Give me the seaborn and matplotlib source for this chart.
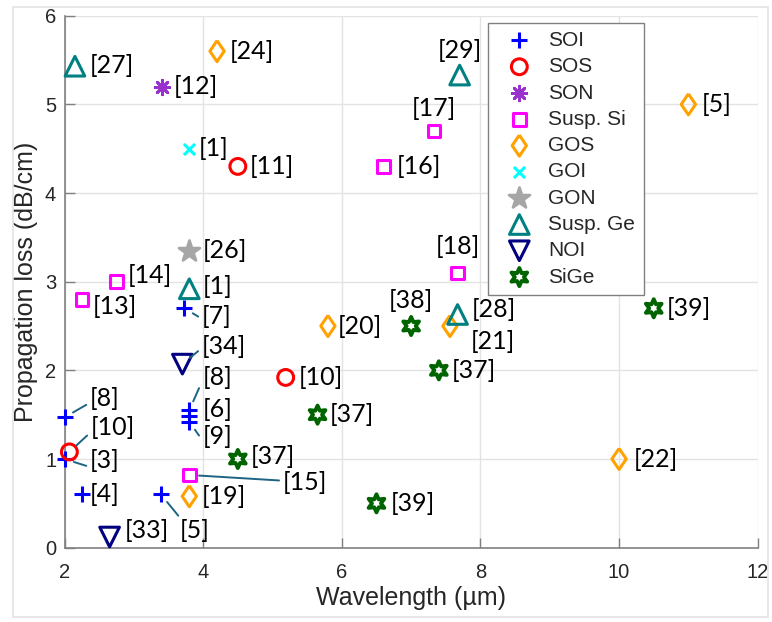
import matplotlib
matplotlib.use("Agg")
from matplotlib import pyplot as plt
from matplotlib.markers import MarkerStyle
from matplotlib.patches import Rectangle
import seaborn as sns

# waveguide platforms and their data (wavelength in um, loss in dB/cm)
groups = ["SOI", "SOS", "SON", "Susp. Si", "GOS", "GOI", "GON", "Susp. Ge", "NOI", "SiGe"]

soi_x = [2.0, 2.0, 2.25, 3.39, 3.73, 3.8, 3.8, 3.8]
soi_y = [1.47, 1.0, 0.6, 0.6, 2.7, 1.55, 1.49, 1.42]
soi_ref = ["[8]", "[3]", "[4]", "[5]", "[7]", "[8]", "[6]", "[9]"]

sos_x = [2.07, 4.5, 5.19]
sos_y = [1.08, 4.3, 1.92]
sos_ref = ["[10]", "[11]", "[10]"]

son_x = [3.4]
son_y = [5.2]
son_ref = ["[12]"]

susp_si_x = [2.25, 2.75, 3.8, 6.6, 7.33, 7.67]
susp_si_y = [2.8, 3.0, 0.82, 4.3, 4.7, 3.1]
susp_si_ref = ["[13]", "[14]", "[15]", "[16]", "[17]", "[18]"]

gos_x = [4.2, 3.8, 5.8, 7.56, 10.0, 11.0]
gos_y = [5.6, 0.58, 2.5, 2.5, 1.0, 5.0]
gos_ref = ["[24]", "[19]", "[20]", "[21]", "[22]", "[5]"]

goi_x = [3.8]
goi_y = [4.5]
goi_ref = ["[1]"]

gon_x = [3.8]
gon_y = [3.35]
gon_ref = ["[26]"]

susp_ge_x = [2.15, 3.8, 7.7, 7.67]
susp_ge_y = [5.43, 2.92, 5.33, 2.63]
susp_ge_ref = ["[27]", "[1]", "[29]", "[28]"]

noi_x = [3.7, 2.65]
noi_y = [2.07, 0.12]
noi_ref = ["[34]", "[33]"]

sige_x = [4.5, 5.65, 6.5, 7.0, 7.4, 10.5]
sige_y = [1.0, 1.5, 0.5, 2.5, 2.0, 2.7]
sige_ref = ["[37]", "[37]", "[39]", "[38]", "[37]", "[39]"]

data = {
    "SOI": (soi_x, soi_y, soi_ref),
    "SOS": (sos_x, sos_y, sos_ref),
    "SON": (son_x, son_y, son_ref),
    "Susp. Si": (susp_si_x, susp_si_y, susp_si_ref),
    "GOS": (gos_x, gos_y, gos_ref),
    "GOI": (goi_x, goi_y, goi_ref),
    "GON": (gon_x, gon_y, gon_ref),
    "Susp. Ge": (susp_ge_x, susp_ge_y, susp_ge_ref),
    "NOI": (noi_x, noi_y, noi_ref),
    "SiGe": (sige_x, sige_y, sige_ref),
}

# marker style per platform: (marker, colour, size, line width, filled)
wide_diamond = [(0, 1), (0.68, 0), (0, -1), (-0.68, 0), (0, 1)]
styles = {
    "SOI": ("+", "#0000ff", 120, 2.2, False),
    "SOS": ("o", "#ff0000", 130, 2.2, False),
    "SON": ((8, 2, 0), "#9932cc", 110, 2.0, False),
    "Susp. Si": ("s", "#ff00ff", 80, 2.2, False),
    "GOS": (wide_diamond, "#ffa200", 230, 2.2, False),
    "GOI": ("x", "#00ffff", 64, 2.2, False),
    "GON": ("*", "#a6a6a6", 250, 2.0, True),
    "Susp. Ge": ("^", "#008080", 200, 2.2, False),
    "NOI": ("v", "#000080", 200, 2.2, False),
    "SiGe": ((6, 1, 0), "#006400", 170, 2.8, False),
}

# label placement: (dx px, dy px, ha, leader relpos or None)
label_pos = {
    "SOI": [(25, 19, "left", (0, 0.3)), (25, -1, "left", (0, 0.2)), (8, 0, "left", None),
            (19, -36, "left", (0.1, 0.9)), (17, -8, "left", (0, 0.4)), (13, 33, "left", (0, 0.35)),
            (13, 6, "left", None), (13, -15, "left", (0, 0.35))],
    "SOS": [(21, 24, "left", (0, 0.3)), (12, 0, "left", None), (13, 0, "left", None)],
    "SON": [(12, 0, "left", None)],
    "Susp. Si": [(11, -7, "left", None), (11, 6, "left", None), (93, -8, "left", (0, 0.6)),
                 (13, 0, "left", None), (0, 22, "center", None), (0, 26, "center", None)],
    "GOS": [(13, 0, "left", None), (12, 0, "left", None), (10, 0, "left", None),
            (21, -15, "left", None), (15, 0, "left", None), (13, 0, "left", None)],
    "GOI": [(9, 0, "left", None)],
    "GON": [(13, 0, "left", None)],
    "Susp. Ge": [(15, 1, "left", None), (13, 2, "left", None), (0, 25, "center", None),
                 (14, 5, "left", None)],
    "NOI": [(19, 18, "left", (0, 0.4)), (15, 7, "left", None)],
    "SiGe": [(13, 3, "left", None), (12, 0, "left", None), (14, 0, "left", None),
             (0, 26, "center", None), (13, 0, "left", None), (13, 0, "left", None)],
}

sns.set_style("whitegrid")
plt.rcParams['font.family'] = ['Liberation Sans', 'DejaVu Sans']

fig = plt.figure(figsize=(7.72, 6.22), dpi=100)
ax = fig.add_axes([0.0836, 0.1195, 0.8979, 0.8553])

for g in groups:
    xs, ys, refs = data[g]
    marker, color, size, lw, filled = styles[g]
    if MarkerStyle(marker).is_filled() and not filled:
        # open symbol, MATLAB style
        sns.scatterplot(x=xs, y=ys, marker=marker, s=size, color=color,
                        facecolor="none", edgecolor=color, linewidth=lw,
                        label=g, zorder=3, clip_on=False, ax=ax)
    else:
        sns.scatterplot(x=xs, y=ys, marker=marker, s=size, color=color,
                        edgecolor=color, linewidth=lw, label=g, zorder=3,
                        clip_on=False, ax=ax)
    for x, y, ref, (dx, dy, ha, relpos) in zip(xs, ys, refs, label_pos[g]):
        arrow = None
        if relpos is not None:
            arrow = dict(arrowstyle="-", color="#1d6384", lw=1.4,
                         shrinkA=0, shrinkB=7, relpos=relpos)
        ax.annotate(ref, xy=(x, y), xytext=(dx, dy), textcoords="offset pixels",
                    ha=ha, va="center", fontsize=18, family="Lato",
                    color="black", arrowprops=arrow, zorder=4)

ax.set_xlim(2, 12)
ax.set_ylim(0, 6)
ax.set_xticks([2, 4, 6, 8, 10, 12])
ax.set_yticks([0, 1, 2, 3, 4, 5, 6])
ax.grid(True, color="#e3e3e3", linewidth=1)
for s in ["top", "right"]:
    ax.spines[s].set_visible(False)
for s in ["left", "bottom"]:
    ax.spines[s].set_color("#808080")
    ax.spines[s].set_linewidth(1.2)
ax.tick_params(direction="in", length=7, width=1, color="#808080",
               labelsize=14.5, labelcolor="#262626", left=True, bottom=True)
ax.tick_params(axis="x", pad=11)
ax.tick_params(axis="y", pad=6)
ax.set_xlabel("Wavelength (µm)", fontsize=18, color="#262626", labelpad=3)
ax.set_ylabel("Propagation loss (dB/cm)", fontsize=18, color="#262626", labelpad=5)

leg = ax.legend(loc="upper left", bbox_to_anchor=(0.611, 0.987), frameon=True,
                fancybox=False, framealpha=1, edgecolor="#808080", scatterpoints=1,
                prop={"family": "Liberation Sans", "size": 15}, labelspacing=0.35,
                handletextpad=0.3, borderpad=0.4, handlelength=2.2, borderaxespad=0)
leg.get_frame().set_linewidth(1)

fig.patches.append(Rectangle((13 / 772, 1 - 617 / 622), 755 / 772, 610 / 622,
                             transform=fig.transFigure, fill=False,
                             edgecolor="#e3e3e3", linewidth=1.2))

fig.savefig("out.png", dpi=100)
